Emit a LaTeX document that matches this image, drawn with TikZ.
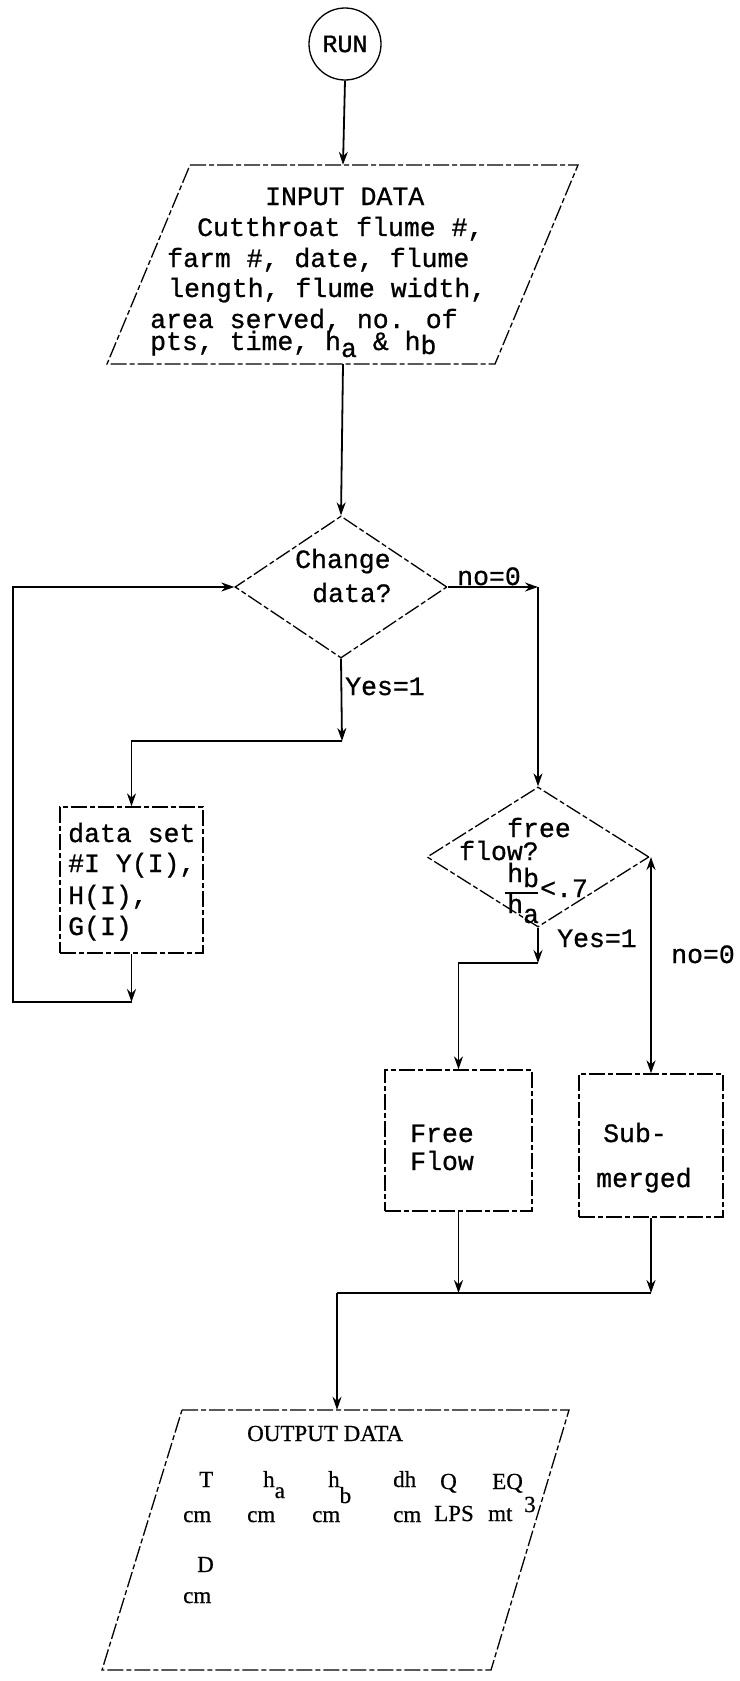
\documentclass[tikz,border=0pt]{standalone}
\usepackage{fontspec}
\usetikzlibrary{shapes.geometric,arrows.meta}
\newfontfamily\twfont[FakeBold=0.8]{Liberation Mono}
\newfontfamily\srfont[FakeBold=0.6]{Liberation Serif}
\begin{document}
\begin{tikzpicture}[x=1pt,y=-1pt,
  shp/.style={draw, line width=1.3pt, dash pattern=on 16pt off 3pt on 5pt off 3pt},
  conn/.style={line width=1.8pt},
  arr/.style={conn, -{Stealth[length=13pt,width=9pt]}},
  tt/.style={font=\twfont\fontsize{26.5}{32}\selectfont, inner sep=0pt, anchor=base west},
  st/.style={font=\srfont\fontsize{23}{28}\selectfont, inner sep=0pt, anchor=base west},
]
\useasboundingbox[fill=white] (0,0) rectangle (739,1681);

% start
\node[draw, line width=1.3pt, circle, minimum size=72pt, inner sep=0pt, font=\twfont\fontsize{25}{31}\selectfont] (run) at (345,44) {RUN};

% input parallelogram
\node[minimum width=300pt, minimum height=199pt, inner sep=0pt] (input) at (343,264.5) {};
\draw[shp] (190,165) -- (578,165) -- (495,364) -- (107,364) -- cycle;
\node[tt] (in1) at (265,205) {INPUT DATA};
\node[tt] (in2) at (197,236) {Cutthroat flume \#,};
\node[tt] (in3) at (167,267) {farm \#, date, flume};
\node[tt] (in4) at (168,297) {length, flume width,};
\node[tt] (in5) at (150,328) {area served, no. of};
\node[tt] (in6) at (150,350) {pts, time, h\raisebox{-7pt}{a} \& h\raisebox{-4pt}{b}};

% decision 1
\node[shp, diamond, minimum width=212pt, minimum height=142pt, inner sep=0pt] (d1) at (341,587) {};
\node[tt] (d1a) at (295,568) {Change};
\node[tt] (d1b) at (312,602) {data?};

% data set box
\node[shp, rectangle, minimum width=143pt, minimum height=146pt, inner sep=0pt] (ds) at (131.5,880) {};
\node[tt] (ds1) at (68,842) {data set};
\node[tt] (ds2) at (68,872) {\#I Y(I),};
\node[tt] (ds3) at (68,904) {H(I),};
\node[tt] (ds4) at (68,935) {G(I)};

% decision 2
\node[shp, diamond, minimum width=222pt, minimum height=140pt, inner sep=0pt] (d2) at (538,857) {};
\node[tt] (d2a) at (507,837) {free};
\node[tt] (d2b) at (459,860) {flow?};
\node[tt] (d2c) at (507,882) {h\raisebox{-5pt}{b}};
\node[tt] (d2d) at (540,897) {<.7};
\node[tt] (d2e) at (507,913) {h\raisebox{-10pt}{a}};
\draw[line width=1.3pt] (505,893) -- (538,893);

% process boxes
\node[shp, rectangle, minimum width=147pt, minimum height=141pt, inner sep=0pt] (ff) at (458.5,1140.5) {};
\node[tt] (ff1) at (410,1142) {Free};
\node[tt] (ff2) at (410,1170) {Flow};
\node[shp, rectangle, minimum width=144pt, minimum height=143pt, inner sep=0pt] (sub) at (651,1145.5) {};
\node[tt] (sb1) at (603,1142) {Sub-};
\node[tt] (sb2) at (596,1187) {merged};

% output parallelogram
\node[minimum width=300pt, minimum height=260pt, inner sep=0pt] (output) at (337,1540) {};
\draw[shp] (182,1410) -- (569,1410) -- (491,1670) -- (102,1670) -- cycle;
\node[st] (o0) at (247,1441) {OUTPUT DATA};
\node[st] (o1) at (199,1487) {T};
\node[st] (o2) at (263,1487) {h\raisebox{-11pt}{a}};
\node[st] (o3) at (328,1487) {h\raisebox{-16pt}{b}};
\node[st] (o4) at (393,1487) {dh};
\node[st] (o5) at (440,1489) {Q};
\node[st] (o6) at (492,1489) {EQ};
\node[st] (o7) at (524,1512) {3};
\node[st] (u1) at (183,1522) {cm};
\node[st] (u2) at (247,1522) {cm};
\node[st] (u3) at (312,1522) {cm};
\node[st] (u4) at (393,1522) {cm};
\node[st] (u5) at (434,1521) {LPS};
\node[st] (u6) at (488,1521) {mt};
\node[st] (o8) at (197,1572) {D};
\node[st] (u7) at (183,1603) {cm};

% labels
\node[tt] (l1) at (457,585) {no=0};
\node[tt] (l2) at (345,695) {Yes=1};
\node[tt] (l3) at (557,947) {Yes=1};
\node[tt] (l4) at (671,963) {no=0};

% connectors
\coordinate (c1) at (d1.east -| d2.north);
\coordinate (c2) at (342,741);
\coordinate (c3) at (131.5,1002);
\coordinate (c3b) at (13,1002);
\coordinate (c3c) at (13,587);
\coordinate (c4) at (538,963);
\coordinate (c5) at (458.5,1293);
\coordinate (c6) at (651,1293);
\coordinate (c7) at (337,1293);
\coordinate (c8) at (651,857);

\draw[arr] (run.south) -- (input.north);
\draw[arr] (input.south) -- (d1.north);
\draw[arr] (d1.east) -- (c1);
\draw[arr] (c1) -- (d2.north);
\draw[arr] (d1.south) -- (c2);
\draw[arr] (c2) -| (ds.north);
\draw[arr] (ds.south) -- (c3);
\draw[arr] (c3) -- (c3b) -- (c3c) -- (d1.west);
\draw[arr] (d2.south) -- (c4);
\draw[arr] (c4) -| (ff.north);
\draw[conn, {Stealth[length=13pt,width=9pt]}-{Stealth[length=13pt,width=9pt]}] (c8) -- (sub.north);
\draw[arr] (ff.south) -- (c5);
\draw[arr] (sub.south) -- (c6);
\draw[conn] (c6) -- (c7);
\draw[arr] (c7) -- (output.north);
\end{tikzpicture}
\end{document}
